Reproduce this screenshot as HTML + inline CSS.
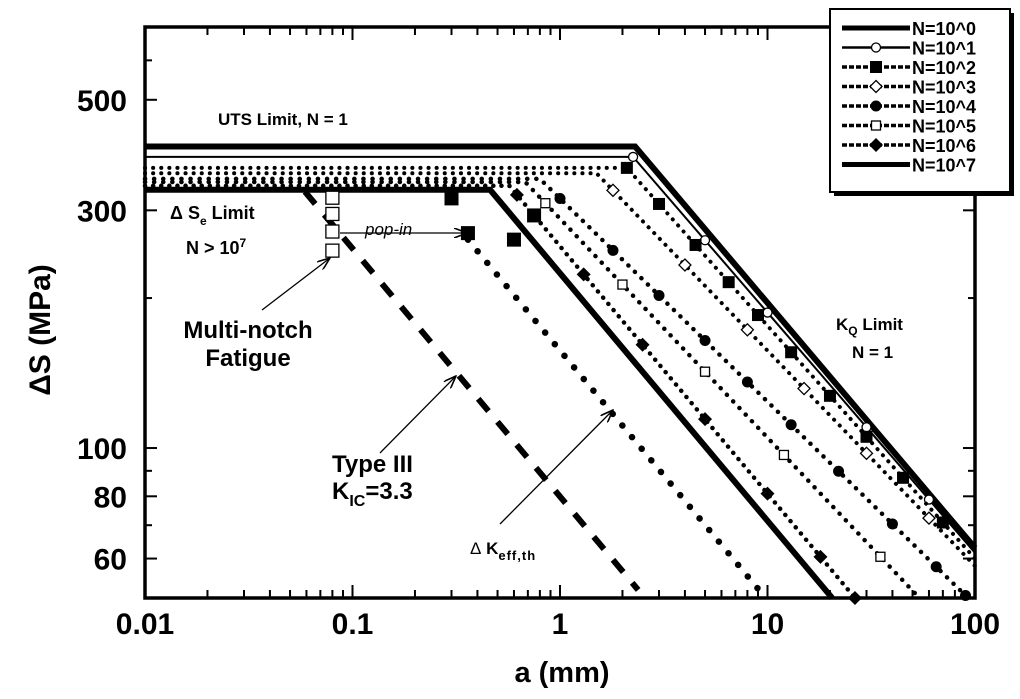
<!DOCTYPE html>
<html><head><meta charset="utf-8"><style>
body{margin:0;background:#fff;}
svg{display:block;font-family:"Liberation Sans",Arial,sans-serif;font-weight:bold;}
</style></head><body>
<svg id="chart" width="1020" height="699" viewBox="0 0 1020 699">
<defs>
<marker id="ah" markerWidth="14" markerHeight="10" refX="13" refY="5" orient="auto" markerUnits="userSpaceOnUse">
<path d="M0,0 L13,5 L0,10" fill="none" stroke="#000" stroke-width="1.6"/>
</marker>
</defs>
<g id="plot"></g>
<g id="axes"></g>
<g id="annot" font-size="16">
<text x="218" y="125" font-size="17">UTS Limit, N = 1</text>
<text x="170" y="219" font-size="18">Δ S<tspan font-size="12" dy="6">e</tspan><tspan dy="-6"> Limit</tspan></text>
<text x="186" y="254" font-size="18">N &gt; 10<tspan font-size="12" dy="-7">7</tspan></text>
<text x="365" y="235" font-style="italic" font-weight="normal" font-size="17">pop-in</text>
<line x1="340" y1="233" x2="467" y2="233" stroke="#000" stroke-width="1.3" marker-end="url(#ah)"/>
<text x="248" y="338" font-size="24" text-anchor="middle">Multi-notch</text>
<text x="248" y="366" font-size="24" text-anchor="middle">Fatigue</text>
<line x1="262" y1="310" x2="330" y2="258" stroke="#000" stroke-width="1.3" marker-end="url(#ah)"/>
<text x="332" y="472" font-size="24">Type III</text>
<text x="332" y="499" font-size="24">K<tspan font-size="16" dy="7">IC</tspan><tspan dy="-7">=3.3</tspan></text>
<line x1="380" y1="453" x2="456" y2="376" stroke="#000" stroke-width="1.3" marker-end="url(#ah)"/>
<text x="470" y="554" font-size="17"><tspan font-weight="normal">Δ</tspan> K<tspan font-size="13" dy="6" letter-spacing="1">eff,th</tspan></text>
<line x1="500" y1="524" x2="613" y2="410" stroke="#000" stroke-width="1.3" marker-end="url(#ah)"/>
<text x="836" y="330" font-size="17">K<tspan font-size="12" dy="5">Q</tspan><tspan dy="-5"> Limit</tspan></text>
<text x="852" y="358" font-size="17">N = 1</text>
<text x="562" y="682" font-size="29" text-anchor="middle">a (mm)</text>
<text transform="translate(50,330) rotate(-90)" font-size="30" text-anchor="middle">ΔS (MPa)</text>
</g>
<g id="legend"></g>
</svg>
<script>
// ---- data ----
const seriesNames = ["N=10^0","N=10^1","N=10^2","N=10^3","N=10^4","N=10^5","N=10^6","N=10^7"];
const limitStress = [403, 384, 365, 356, 347, 342, 336, 330];
const kneeCrack = [2.3, 2.25, 2.1, 1.5, 0.80, 0.68, 0.57, 0.46];
const endCrack = [100, 100, 100, 100, 92.6, 54, 26.4, 20.5];
const endStress = [63, 61.6, 60, 58, 50, 50, 50, 50];
const markerCrack = [
  [],
  [2.25, 5, 10, 30, 60],
  [2.1, 3, 4.5, 6.5, 9, 13, 20, 30, 45, 70],
  [1.8, 4, 8, 15, 30, 60],
  [1, 1.8, 3, 5, 8, 13, 22, 40, 65, 90],
  [0.85, 2, 5, 12, 35],
  [0.62, 1.3, 2.5, 5, 10, 18, 26.4],
  []
];
const typeIIICrack = [0.059, 2.38];
const typeIIIStress = [327, 51.9];
const keffCrack = [0.36, 9.8];
const keffStress = [262, 50];
const bigSquareCrack = [0.3, 0.36, 0.6, 0.75];
const bigSquareStress = [317, 270, 262, 293];
const notchCrack = [0.08, 0.08, 0.08, 0.08];
const notchStress = [318, 295, 272, 249];
const xTicks = [0.01, 0.1, 1, 10, 100];
const xTickLabels = ["0.01","0.1","1","10","100"];
const yTicks = [60, 80, 100, 300, 500];
const yTickLabels = ["60","80","100","300","500"];

// ---- scales ----
const X0=145, X1=975, Y0=598, Y1=27;
const xmin=Math.log10(0.01), xmax=Math.log10(100), ymin=Math.log10(50), ymax=Math.log10(700);
const sx=a=>X0+(Math.log10(a)-xmin)/(xmax-xmin)*(X1-X0);
const sy=s=>Y0-(Math.log10(s)-ymin)/(ymax-ymin)*(Y0-Y1);
const NS="http://www.w3.org/2000/svg";
function mk(tag,attrs,parent){const e=document.createElementNS(NS,tag);for(const k in attrs)e.setAttribute(k,attrs[k]);parent.appendChild(e);return e;}
const plot=document.getElementById('plot'), axes=document.getElementById('axes'), leg=document.getElementById('legend');

const styles=[
 {w:6,dash:null},{w:2,dash:null},{w:4,dash:"0.1 8"},{w:4,dash:"0.1 8"},
 {w:4.5,dash:"0.1 9"},{w:4.5,dash:"0.1 9"},{w:4.5,dash:"0.1 8"},{w:6,dash:null}];
const mtype=["none","ocircle","fsquare","odiamond","fcircle","osquare","fdiamond","none"];

function marker(type,x,y,parent,sz){
  sz=sz||5;let e;
  if(type==="ocircle") e=mk('circle',{cx:x,cy:y,r:sz-0.5,fill:'#fff',stroke:'#000','stroke-width':1.3},parent);
  else if(type==="fcircle") e=mk('circle',{cx:x,cy:y,r:sz+0.5,fill:'#000'},parent);
  else if(type==="fsquare") e=mk('rect',{x:x-sz-1,y:y-sz-1,width:2*sz+2,height:2*sz+2,fill:'#000'},parent);
  else if(type==="osquare") e=mk('rect',{x:x-sz+0.5,y:y-sz+0.5,width:2*sz-1,height:2*sz-1,fill:'#fff',stroke:'#000','stroke-width':1.3},parent);
  else if(type==="odiamond") e=mk('path',{d:`M${x},${y-sz-1}L${x+sz+1},${y}L${x},${y+sz+1}L${x-sz-1},${y}Z`,fill:'#fff',stroke:'#000','stroke-width':1.3},parent);
  else if(type==="fdiamond") e=mk('path',{d:`M${x},${y-sz-2}L${x+sz+2},${y}L${x},${y+sz+2}L${x-sz-2},${y}Z`,fill:'#000'},parent);
  return e;
}

seriesNames.forEach((n,i)=>{
  const g=mk('g',{},plot);
  
  
  const pts=[[0.01,limitStress[i]],[kneeCrack[i],limitStress[i]],[endCrack[i],endStress[i]]];
  const st=styles[i];
  const p=mk('polyline',{points:pts.map(q=>sx(q[0])+','+sy(q[1])).join(' '),fill:'none',stroke:'#000','stroke-width':st.w,'stroke-linecap':st.dash?'round':'butt','stroke-linejoin':'miter'},g);
  if(st.dash)p.setAttribute('stroke-dasharray',st.dash);
  
  
  const m=Math.log(endStress[i]/limitStress[i])/Math.log(endCrack[i]/kneeCrack[i]);
  markerCrack[i].forEach(a=>{
    const s=a<=kneeCrack[i]?limitStress[i]:limitStress[i]*Math.pow(a/kneeCrack[i],m);
    const e=marker(mtype[i],sx(a),sy(s),g);
    if(e){
    }
  });
});

// Type III dashed
let l=mk('line',{x1:sx(typeIIICrack[0]),y1:sy(typeIIIStress[0]),x2:sx(typeIIICrack[1]),y2:sy(typeIIIStress[1]),stroke:'#000','stroke-width':6,'stroke-dasharray':'16 14'},plot);


// Keff dotted
l=mk('line',{x1:sx(keffCrack[0]),y1:sy(keffStress[0]),x2:sx(keffCrack[1]),y2:sy(keffStress[1]),stroke:'#000','stroke-width':6.5,'stroke-linecap':'round','stroke-dasharray':'0.1 15'},plot);


bigSquareCrack.forEach((a,i)=>{
  const e=marker('fsquare',sx(a),sy(bigSquareStress[i]),plot,6);
  
  
});
notchCrack.forEach((a,i)=>{
  const e=marker('osquare',sx(a),sy(notchStress[i]),plot,7);
  
  
});

// axes frame
l=mk('rect',{x:X0,y:Y1,width:X1-X0,height:Y0-Y1,fill:'none',stroke:'#000','stroke-width':3.5},axes);


for(let d=-2;d<2;d++){for(let k=1;k<10;k++){
  const a=k*Math.pow(10,d), x=sx(a), len=k===1?13:8;
  mk('line',{x1:x,y1:Y0,x2:x,y2:Y0-len,stroke:'#000','stroke-width':2},axes);
  mk('line',{x1:x,y1:Y1,x2:x,y2:Y1+len,stroke:'#000','stroke-width':2},axes);
}}
[50,60,70,80,90,100,200,300,400,500,600,700].forEach(s=>{
  const y=sy(s), len=[100,300,500,60,80].includes(s)?12:7;
  mk('line',{x1:X0,y1:y,x2:X0+len,y2:y,stroke:'#000','stroke-width':2},axes);
  mk('line',{x1:X1,y1:y,x2:X1-len,y2:y,stroke:'#000','stroke-width':2},axes);
});
xTicks.forEach((a,i)=>{
  const t=mk('text',{x:sx(a),y:634,'font-size':30,'text-anchor':'middle'},axes);
  t.textContent=xTickLabels[i];
  
  
});
yTicks.forEach((s,i)=>{
  const t=mk('text',{x:127,y:sy(s)+11,'font-size':30,'text-anchor':'end'},axes);
  t.textContent=yTickLabels[i];
  
  
});

// legend


mk('rect',{x:834,y:13,width:180,height:183,fill:'#000'},leg);
mk('rect',{x:830,y:9,width:180,height:183,fill:'#fff',stroke:'#000','stroke-width':2},leg);
seriesNames.forEach((n,i)=>{
  const y=28+i*19.5;
  const g=mk('g',{},leg);
  
  
  const st=styles[i];
  const ln=mk('line',{x1:842,y1:y,x2:910,y2:y,stroke:'#000','stroke-width':st.dash?3.5:(i===1?2.5:5)},g);
  if(st.dash)ln.setAttribute('stroke-dasharray','5 2');
  marker(mtype[i],876,y,g,5);
  const t=mk('text',{x:912,y:y+7,'font-size':18},g);
  t.textContent=n;
});
</script>
</body></html>
